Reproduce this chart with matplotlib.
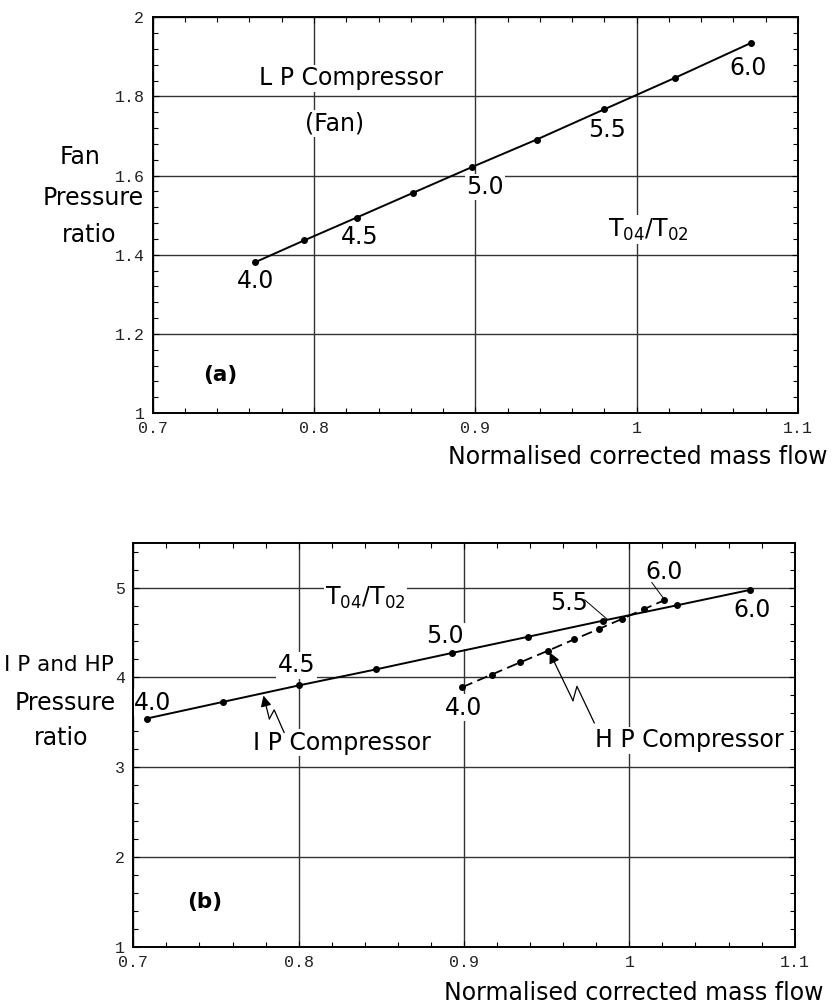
import matplotlib
matplotlib.use("Agg")
import matplotlib.pyplot as plt
from matplotlib.ticker import MultipleLocator, FuncFormatter

# temperature ratio T04/T02 along each working line
ratio = [4.0, 4.25, 4.5, 4.75, 5.0, 5.25, 5.5, 5.75, 6.0]

# (a) LP compressor (fan)
fan_flow = [0.7635, 0.7938, 0.8265, 0.8612, 0.8982, 0.938, 0.9797, 1.0238, 1.0708]
fan_pr = [1.381, 1.436, 1.494, 1.556, 1.622, 1.691, 1.767, 1.847, 1.935]

# (b) IP and HP compressors
ip_flow = [0.708, 0.7543, 0.8003, 0.8468, 0.8928, 0.9387, 0.9842, 1.0291, 1.0732]
ip_pr = [3.541, 3.727, 3.911, 4.089, 4.272, 4.452, 4.632, 4.804, 4.975]
hp_flow = [0.899, 0.9167, 0.9341, 0.9511, 0.9665, 0.9814, 0.9954, 1.0088, 1.021]
hp_pr = [3.891, 4.031, 4.168, 4.299, 4.422, 4.538, 4.65, 4.76, 4.858]

W, H = 834, 1007
FS = 17
tick_font = "Liberation Mono"

fig = plt.figure(figsize=(W / 100, H / 100), dpi=100)
ax1 = fig.add_axes([152.7 / W, 1 - 413 / H, 645.2 / W, 395.7 / H])
ax2 = fig.add_axes([133.3 / W, 1 - 946.7 / H, 661.4 / W, 404 / H])

fmt = FuncFormatter(lambda v, p: "%g" % round(v, 3))


def style(ax, ylim, ymaj, ymin):
    ax.set_xlim(0.7, 1.1)
    ax.set_ylim(*ylim)
    ax.xaxis.set_major_locator(MultipleLocator(0.1))
    ax.xaxis.set_minor_locator(MultipleLocator(0.02))
    ax.yaxis.set_major_locator(MultipleLocator(ymaj))
    ax.yaxis.set_minor_locator(MultipleLocator(ymin))
    ax.xaxis.set_major_formatter(fmt)
    ax.yaxis.set_major_formatter(fmt)
    ax.tick_params(which="both", direction="in", top=True, right=True,
                   color="k", width=0.8)
    ax.tick_params(which="major", length=4, pad=6)
    ax.tick_params(which="minor", length=3.5)
    for lab in ax.get_xticklabels() + ax.get_yticklabels():
        lab.set_fontfamily(tick_font)
        lab.set_fontsize(12)
        lab.set_color("#222222")
    ax.grid(True, which="major", color="#333333", lw=1.0)
    for s in ax.spines.values():
        s.set_linewidth(1.4)


def label(ax, x, y, s, **kw):
    kw.setdefault("fontsize", FS)
    ax.text(x, y, s, ha="center", va="center", zorder=1.8,
            bbox=dict(fc="white", ec="none", pad=1.0), **kw)


def zigzag(ax, pts):
    xs = [p[0] for p in pts[1:]]
    ys = [p[1] for p in pts[1:]]
    ax.plot(xs, ys, color="k", lw=0.9, zorder=3)
    ax.annotate("", xy=pts[0], xytext=pts[1],
                arrowprops=dict(arrowstyle="-|>", color="k", lw=0.9,
                                mutation_scale=16, shrinkA=0, shrinkB=0),
                zorder=3)


# ---- (a) fan ----
style(ax1, (1, 2), 0.2, 0.04)
ax1.plot(fan_flow, fan_pr, "-", color="k", lw=1.4, marker="o", ms=4, zorder=2)
a_pos = [(0.764, 1.333), (0.8285, 1.446), (0.906, 1.571), (0.9815, 1.715), (1.069, 1.873)]
for (x, y), r in zip(a_pos, ratio[::2]):
    label(ax1, x, y, "%.1f" % r)
label(ax1, 0.823, 1.846, "L P Compressor")
label(ax1, 0.813, 1.732, "(Fan)")
label(ax1, 1.007, 1.463, r"T$_{04}$/T$_{02}$")
ax1.text(0.742, 1.096, "(a)", fontsize=15.5, fontweight="bold", ha="center", va="center")

# ---- (b) IP and HP ----
style(ax2, (1, 5.5), 1, 0.2)
ax2.plot(ip_flow, ip_pr, "-", color="k", lw=1.4, marker="o", ms=4, zorder=2)
ax2.plot(hp_flow, hp_pr, color="k", lw=1.3, dashes=(6, 3), marker="o", ms=4, zorder=2)
ip_pos = [(0.7117, 3.716), (0.7988, 4.133), (0.8887, 4.46), (0.9633, 4.827), (1.0741, 4.752)]
for (x, y), r in zip(ip_pos, ratio[::2]):
    label(ax2, x, y, "%.1f" % r)
label(ax2, 0.8997, 3.66, "%.1f" % ratio[0])
label(ax2, 1.0211, 5.178, "%.1f" % ratio[-1])
ax2.plot([0.9730, 0.9865], [4.863, 4.649], color="k", lw=0.7, zorder=3)
ax2.plot([1.0136, 1.0206], [5.056, 4.882], color="k", lw=0.7, zorder=3)
label(ax2, 0.8405, 4.882, r"T$_{04}$/T$_{02}$")
label(ax2, 0.826, 3.27, "I P Compressor")
label(ax2, 1.036, 3.30, "H P Compressor")
zigzag(ax2, [(0.7787, 3.797), (0.7823, 3.538), (0.7852, 3.638), (0.7912, 3.386)])
zigzag(ax2, [(0.9518, 4.278), (0.9659, 3.741), (0.9683, 3.9), (0.9788, 3.493)])
ax2.text(0.743, 1.5, "(b)", fontsize=15.5, fontweight="bold", ha="center", va="center")

# axis titles placed as in the original figure
def ftext(px, py, s, size=FS, **kw):
    fig.text(px / W, 1 - py / H, s, fontsize=size, va="center", **kw)


ftext(80, 157, "Fan", ha="center")
ftext(93, 198, "Pressure", ha="center")
ftext(89, 235, "ratio", ha="center")
ftext(828, 457, "Normalised corrected mass flow", ha="right")

ftext(59, 665, "I P and HP", size=15.5, ha="center")
ftext(65, 703, "Pressure", ha="center")
ftext(61, 738, "ratio", ha="center")
ftext(824, 993, "Normalised corrected mass flow", ha="right")

fig.savefig("out.png", dpi=100)
